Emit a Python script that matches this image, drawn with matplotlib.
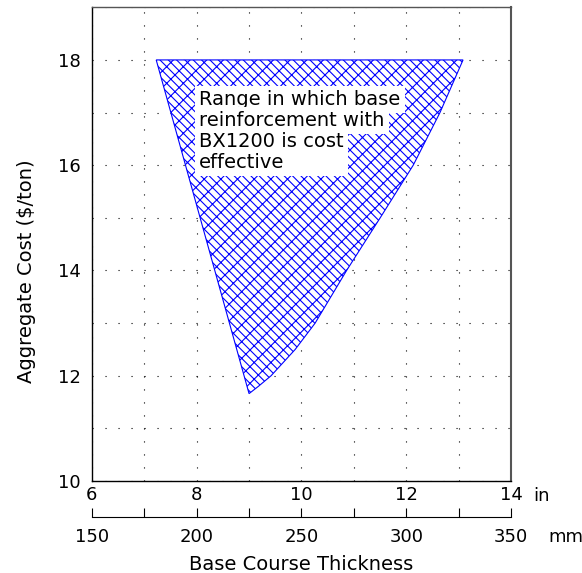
import matplotlib
matplotlib.use("Agg")
import matplotlib.pyplot as plt
from matplotlib.ticker import MultipleLocator, FixedLocator, NullFormatter

# ---- data ----
top_left_x = 7.23          # in, upper-left corner of region at cost = 18
top_y = 18.0               # $/ton
curve_y = [11.66, 11.80, 12.0, 12.5, 13.0, 14.0, 15.0, 16.0, 17.0, 18.0]
curve_x = [9.00, 9.18, 9.42, 9.88, 10.26, 10.86, 11.50, 12.13, 12.64, 13.08]

x_ticks_in = [6, 8, 10, 12, 14]
y_ticks = [10, 12, 14, 16, 18]
mm_ticks = [150, 200, 250, 300, 350]
mm_minor = [175, 225, 275, 325]
note_lines = ["Range in which base", "reinforcement with", "BX1200 is cost\neffective"]

plt.rcParams['font.family'] = ['DejaVu Sans']
plt.rcParams['hatch.linewidth'] = 0.8

BS = chr(92)
HATCH = BS * 4 + '//'

fig = plt.figure(figsize=(5.82, 5.73), dpi=100)
ax = fig.add_axes([91.7/582, 1-481/573, (511.3-91.7)/582, (481-7.3)/573])

ax.set_xlim(6, 14)
ax.set_ylim(10, 19)

tick_fs = 13
# grid
ax.xaxis.set_major_locator(FixedLocator(x_ticks_in))
ax.xaxis.set_minor_locator(MultipleLocator(1))
ax.yaxis.set_major_locator(FixedLocator(y_ticks))
ax.yaxis.set_minor_locator(MultipleLocator(1))
ax.grid(True, which='both', linestyle=(0, (1, 10.7)), color='black', linewidth=0.8)
ax.set_axisbelow(True)
ax.tick_params(which='both', length=0)
ax.tick_params(axis='x', labelsize=tick_fs, pad=3.5)
ax.tick_params(axis='y', labelsize=tick_fs, pad=8)
for s in ax.spines.values():
    s.set_linewidth(1.0)
ax.spines['top'].set_color('#555555')
ax.spines['right'].set_color('#555555')
ax.spines['right'].set_linewidth(1.5)

# hatched region
xs = [top_left_x] + curve_x
ys = [top_y] + curve_y
ax.fill(xs, ys, facecolor='white', edgecolor='blue', hatch=HATCH, linewidth=0.8, zorder=3)

# note text
fs = 14
box = dict(boxstyle='square,pad=0.22', facecolor='white', edgecolor='none')
ax.text(8.05, 17.25, note_lines[0], fontsize=fs, va='center', ha='left', zorder=5, bbox=box)
ax.text(8.05, 16.85, note_lines[1], fontsize=fs, va='center', ha='left', zorder=5, bbox=box)
ax.text(8.05, 16.25, note_lines[2], fontsize=fs, va='center', ha='left', zorder=5,
        linespacing=1.1, bbox=box)

# secondary mm axis
def in2mm(x):
    return 150 + (x - 6) * 25.0

def mm2in(m):
    return 6 + (m - 150) / 25.0

sec = ax.secondary_xaxis((481 - 517.3) / (481 - 7.3), functions=(in2mm, mm2in))
sec.xaxis.set_major_locator(FixedLocator(mm_ticks))
sec.xaxis.set_minor_locator(FixedLocator(mm_minor))
sec.xaxis.set_minor_formatter(NullFormatter())
sec.tick_params(which='both', direction='in', length=6.5, width=0.8, labelsize=tick_fs, pad=7.5)
sec.spines['bottom'].set_linewidth(0.8)

# unit labels
ax.annotate('in', xy=(1, 0), xycoords='axes fraction', xytext=(16, -10.8),
            textcoords='offset points', ha='left', va='center', fontsize=tick_fs)
ax.annotate('mm', xy=(1, 0), xycoords='axes fraction', xytext=(26.5, -40.5),
            textcoords='offset points', ha='left', va='center', fontsize=tick_fs)

lab_fs = 14
fig.text(27/582, 1-271/573, 'Aggregate Cost ($/ton)', rotation=90, ha='center', va='center', fontsize=lab_fs)
fig.text(301.5/582, 1-564/573, 'Base Course Thickness', ha='center', va='center', fontsize=lab_fs)

fig.savefig('out.png', dpi=100)
